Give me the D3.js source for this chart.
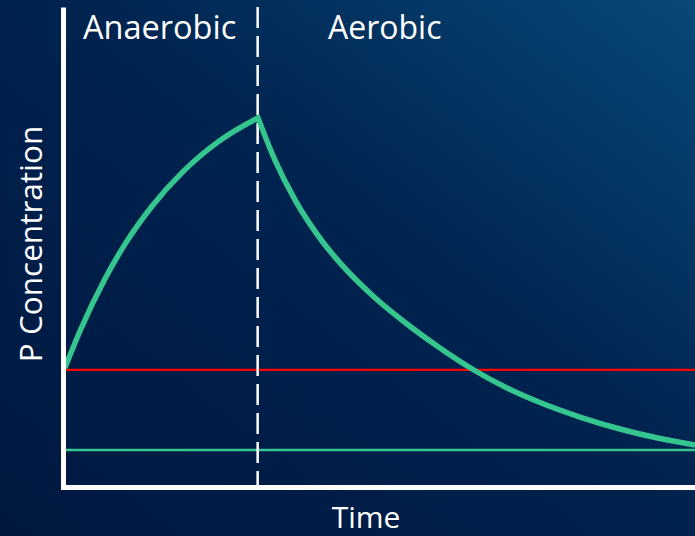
<!DOCTYPE html>
<html>
<head>
<meta charset="utf-8">
<script src="https://cdn.jsdelivr.net/npm/d3@7"></script>
<style>
  html, body { margin: 0; padding: 0; background: #001a42; }
  svg { display: block; }
</style>
</head>
<body>
<svg id="chart" width="695" height="536"></svg>
<script>
// ---- data (time 0..100, concentration 0..100, arbitrary units) ----
const riseTime  = [0.3, 2.69, 6.65, 9.81, 14.08, 18.99, 24.53, 30.85];
const riseValue = [24.8, 32.5, 43.4, 50.6, 58.5, 65.7, 71.9, 76.9];
const fallTime  = [30.85, 33.54, 36.71, 40.98, 43.83, 49.05, 54.43, 59.65, 64.87, 70.25, 75.47, 81.8, 88.13, 94.46, 100];
const fallValue = [76.9, 68.1, 59.8, 51.25, 46.7, 39.8, 33.96, 28.96, 24.48, 20.63, 17.6, 14.58, 12.08, 10.1, 8.75];
const redLevel = 24.4;
const greenLevel = 7.7;
const phaseBoundary = 30.8;
const phaseLabels = ["Anaerobic", "Aerobic"];
const xLabel = "Time";
const yLabel = "P Concentration";

const svg = d3.select("#chart");
const W = 695, H = 536;

// background gradient
const defs = svg.append("defs");
const grad = defs.append("linearGradient").attr("id", "bg")
  .attr("x1", "0%").attr("y1", "100%").attr("x2", "100%").attr("y2", "0%");
grad.append("stop").attr("offset", "0%").attr("stop-color", "#001840");
grad.append("stop").attr("offset", "55%").attr("stop-color", "#00234f");
grad.append("stop").attr("offset", "100%").attr("stop-color", "#084878");
svg.append("rect").attr("width", W).attr("height", H).attr("fill", "url(#bg)");

const x = d3.scaleLinear().domain([0, 100]).range([63, 695]);
const y = d3.scaleLinear().domain([0, 100]).range([487, 7]);

const green = "#35c690";

// reference lines
svg.append("line")
  .attr("x1", x(0) + 2).attr("x2", x(100))
  .attr("y1", y(redLevel)).attr("y2", y(redLevel))
  .attr("stroke", "#ff0000").attr("stroke-width", 2.2);
svg.append("line")
  .attr("x1", x(0) + 2).attr("x2", x(100))
  .attr("y1", y(greenLevel)).attr("y2", y(greenLevel))
  .attr("stroke", green).attr("stroke-width", 2.5);

// phase boundary dashed line
svg.append("line")
  .attr("x1", x(phaseBoundary)).attr("x2", x(phaseBoundary))
  .attr("y1", y(100)).attr("y2", y(0) - 2)
  .attr("stroke", "#ffffff").attr("stroke-width", 2.5)
  .attr("stroke-dasharray", "21,8");

// curve (rise + decay joined at the peak)
const line = d3.line().x(d => x(d[0])).y(d => y(d[1])).curve(d3.curveMonotoneX);
const rise = riseTime.map((t, i) => [t, riseValue[i]]);
const fall = fallTime.map((t, i) => [t, fallValue[i]]);
const dPath = line(rise) + line(fall).replace(/^M/, "L");
svg.append("path").attr("d", dPath)
  .attr("fill", "none").attr("stroke", green)
  .attr("stroke-width", 5.5).attr("stroke-linejoin", "miter")
  .attr("stroke-miterlimit", 10).attr("stroke-linecap", "butt");

// axes (no ticks)
const yAxis = svg.append("g").attr("transform", `translate(${x(0)},0)`)
  .call(d3.axisLeft(y).tickValues([]).tickSizeOuter(0));
yAxis.select(".domain").attr("stroke", "#ffffff").attr("stroke-width", 5);
const xAxis = svg.append("g").attr("transform", `translate(0,${y(0)})`)
  .call(d3.axisBottom(x).tickValues([]).tickSizeOuter(0));
xAxis.select(".domain").attr("stroke", "#ffffff").attr("stroke-width", 5)
  .attr("stroke-linecap", "square");

// texts
const font = "'Open Sans', sans-serif";
svg.append("text").text(phaseLabels[0])
  .attr("x", 83).attr("y", 39)
  .attr("fill", "#fff").attr("font-family", font).attr("font-size", 32.5);
svg.append("text").text(phaseLabels[1])
  .attr("x", 328).attr("y", 39)
  .attr("fill", "#fff").attr("font-family", font).attr("font-size", 32);
svg.append("text").text(xLabel)
  .attr("x", 366).attr("y", 528).attr("text-anchor", "middle")
  .attr("fill", "#fff").attr("font-family", font).attr("font-size", 30);
svg.append("text").text(yLabel)
  .attr("transform", "translate(42,244) rotate(-90)").attr("text-anchor", "middle")
  .attr("fill", "#fff").attr("font-family", font).attr("font-size", 31.5);
</script>
</body>
</html>
